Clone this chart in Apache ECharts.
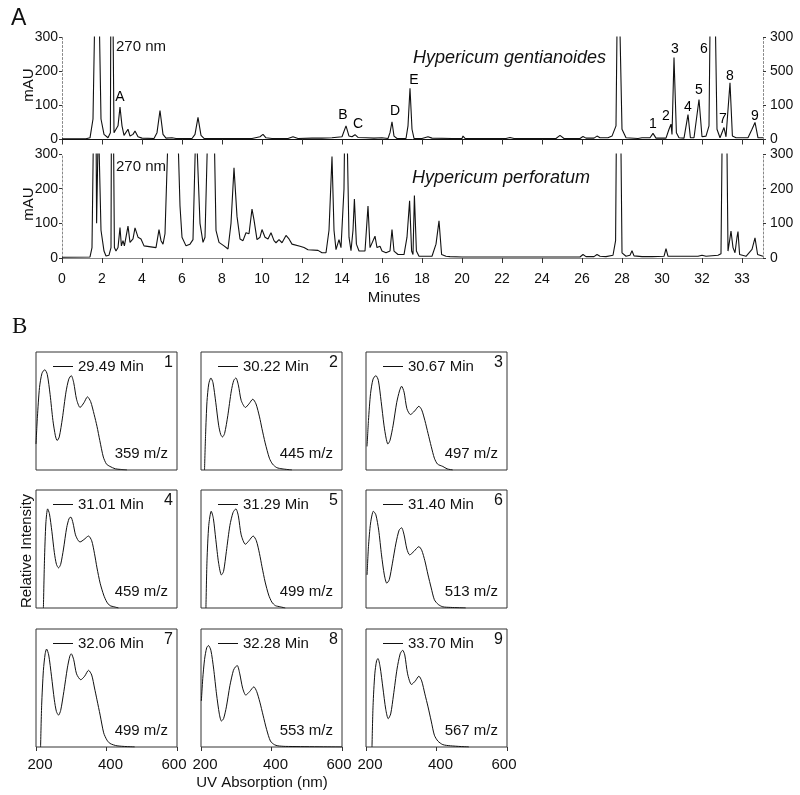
<!DOCTYPE html>
<html>
<head>
<meta charset="utf-8">
<script src="https://cdn.jsdelivr.net/npm/echarts@6/dist/echarts.min.js"></script>
<style>
html,body{margin:0;padding:0;background:#fff;}
#chart{width:800px;height:795px;}
</style>
</head>
<body>
<div id="chart"></div>
<script>
// ---------- DATA ----------
// Chromatogram tick labels (value -> label), last tick labelled "33" as in the original
var chromTickLabels = ['0','2','4','6','8','10','12','14','16','18','20','22','24','26','28','30','32','33'];
var leftYLabels = ['0','100','200','300'];
var rightTopYLabels = ['0','100','500','300'];
var rightBottomYLabels = ['0','100','200','300'];

// Hypericum gentianoides chromatogram (minutes, mAU)
var gentTime = [0,1.2,1.4,1.55,1.65,1.85,1.95,2.1,2.3,2.42,2.47,2.55,2.6,2.7,2.8,2.9,3.0,3.1,3.2,3.3,3.4,3.55,3.65,3.8,4.0,4.6,4.75,4.9,5.05,5.2,5.5,5.7,6.5,6.65,6.8,6.95,7.1,8,9.5,9.9,10.05,10.2,10.5,11.3,11.55,11.8,12.5,13,13.5,14.0,14.2,14.35,14.5,14.65,14.8,15.2,15.6,16.0,16.3,16.4,16.5,16.6,16.75,17.2,17.3,17.4,17.5,17.6,18.0,18.3,18.5,19.5,20.0,20.05,20.15,22.2,22.4,22.6,24.7,24.9,25.1,25.9,26.05,26.2,26.6,26.75,26.9,27.0,27.3,27.5,27.7,27.8,27.9,28.0,28.2,28.8,29.0,29.4,29.55,29.7,30.2,30.35,30.45,30.5,30.6,30.72,30.85,31.1,31.3,31.42,31.6,31.85,32.0,32.2,32.35,32.45,32.6,32.75,32.9,33.0,33.1,33.2,33.3,33.4,33.52,33.7,34.3,34.5,34.65,34.8,35.05];
var gentAU   = [2,2,5,60,400,400,60,15,5,20,900,900,20,15,40,95,40,12,10,30,10,15,25,8,4,3,20,85,15,4,5,3,3,15,65,12,3,3,3,8,15,5,3,3,8,3,4,4,5,8,40,10,8,14,6,5,4,5,3,20,52,10,3,3,40,150,30,3,3,8,4,3,3,10,3,3,6,3,3,12,3,3,9,4,4,10,5,8,5,10,40,600,600,30,5,3,5,5,18,4,4,30,45,15,240,20,5,4,73,5,5,117,8,10,40,600,600,30,5,10,35,8,10,166,10,5,5,30,50,5,5];

// Hypericum perforatum chromatogram (minutes, mAU)
var perfTime = [0,1.4,1.5,1.58,1.7,1.73,1.78,1.82,1.88,1.95,2.1,2.2,2.35,2.45,2.5,2.58,2.62,2.7,2.8,2.9,2.97,3.05,3.12,3.2,3.3,3.4,3.55,3.65,3.8,3.95,4.1,4.2,4.7,4.85,4.95,5.05,5.15,5.3,5.6,5.8,5.9,6.0,6.2,6.4,6.55,6.62,6.7,6.8,6.9,7.05,7.15,7.3,7.6,7.7,7.85,8.1,8.3,8.45,8.6,8.75,8.9,9.05,9.2,9.35,9.5,9.6,9.75,9.9,10.0,10.15,10.3,10.45,10.6,10.7,10.85,11.0,11.2,11.35,11.5,11.9,12.1,12.3,12.8,13.0,13.2,13.35,13.5,13.6,13.7,13.85,13.95,14.05,14.1,14.18,14.28,14.35,14.45,14.55,14.62,14.72,14.85,15.15,15.3,15.4,15.5,15.65,15.75,15.9,16.0,16.2,16.4,16.5,16.6,16.8,17.1,17.25,17.38,17.48,17.55,17.62,17.72,17.85,18.5,18.7,18.85,18.98,19.2,19.3,19.4,20.0,20.1,20.2,22.3,22.4,22.5,25.9,26.05,26.2,26.6,26.75,26.9,27.0,27.2,27.55,27.68,27.75,27.9,28.0,28.2,28.4,28.5,28.6,29.0,29.3,29.4,29.5,30.1,30.2,30.3,30.8,31.0,31.8,32.0,32.2,32.8,32.95,33.05,33.2,33.3,33.38,33.45,33.55,33.65,33.75,33.8,33.88,34.2,34.5,34.65,34.78,35.05];
var perfAU   = [2,3,30,400,400,100,95,400,400,80,20,6,8,30,900,900,30,20,30,88,35,50,35,40,92,45,55,87,60,55,35,30,30,82,50,40,70,350,600,350,150,60,35,40,53,50,400,400,100,45,60,400,400,80,45,35,26,100,260,120,55,50,73,70,141,110,53,60,82,60,55,73,50,44,53,44,65,55,40,34,30,24,22,15,15,80,293,80,24,53,30,25,200,600,600,60,21,80,170,40,20,20,150,30,25,63,30,34,20,15,20,82,20,10,10,60,165,20,10,180,20,5,5,40,107,10,5,10,4,3,6,3,3,6,3,3,10,4,4,10,5,9,4,8,50,600,600,15,5,8,21,6,4,4,7,4,5,27,5,5,5,5,8,5,8,12,600,600,20,50,78,30,15,60,76,10,5,25,58,10,5];

// Peak labels (name, minutes, mAU of the label)
var peakNames = ['A','B','C','D','E','1','2','3','4','5','6','7','8','9'];
var peakLabelTime = [2.9,14.05,14.8,16.65,17.6,29.55,30.2,30.65,31.3,31.85,32.1,33.05,33.4,34.65];
var peakLabelAU   = [124,71,45,83,173,45,69,264,95,144,264,60,185,68];

// UV spectra (panel B)
var spectraRT = ['29.49','30.22','30.67','31.01','31.29','31.40','32.06','32.28','33.70'];
var spectraMz = ['359','445','497','459','499','513','499','553','567'];
var wl1 = [200,204,210,217,225,232,240,248,255,260,266,275,285,293,300,307,315,325,336,346,355,365,373,381,391,400,410,425,440,458];
var in1 = [22,45,70,82,85,81,64,42,29,25,28,44,66,77,80,74,60,53,57,62,58,47,37,25,11,5,3,1,0.5,0];
var wl2 = [210,213,217,222,228,234,242,250,256,261,267,276,286,293,299,306,314,326,336,347,356,366,373,382,394,403,415,430,458];
var in2 = [0,30,58,73,78,74,57,38,30,28,31,46,67,76,78,72,59,53,56,60,56,45,35,23,10,5,2,1,0];
var wl3 = [203,207,213,220,228,235,243,251,257,262,268,277,287,295,301,308,316,326,338,350,358,367,376,385,394,403,418,430,446];
var in3 = [20,42,65,77,80,76,58,38,27,22,25,38,57,67,71,66,52,47,50,54,51,42,31,20,10,5,3,1,0];
var wl4 = [221,224,228,233,238,245,252,258,264,270,278,287,294,299,305,312,320,325,336,349,358,366,373,382,392,401,410,422,434];
var in4 = [0,40,72,84,80,65,47,37,34,37,50,68,76,77,72,62,57,56,58,61,57,46,34,21,11,5,2,1,0];
var wl5 = [214,217,222,229,235,242,250,258,264,272,282,291,299,306,314,326,336,348,357,366,373,382,392,401,411,425,439];
var in5 = [0,40,70,82,76,58,38,28,31,48,70,81,84,78,62,54,57,61,57,46,35,22,11,5,2,1,0];
var wl6 = [203,207,213,221,228,236,244,252,259,266,275,285,294,301,308,316,324,336,350,358,367,376,385,394,405,418,440,483];
var in6 = [28,52,72,82,79,66,45,28,21,24,38,55,66,68,62,50,45,48,52,49,40,28,17,7,3,1,0.5,0];
var wl7 = [213,216,221,226,230,236,244,252,258,264,270,279,289,296,300,307,315,327,338,349,358,366,373,382,392,401,410,430,480];
var in7 = [0,35,65,79,83,78,60,40,30,27,31,47,67,77,79,74,62,57,60,65,61,50,40,27,12,6,3,1,0];
var wl8 = [201,205,210,216,221,228,236,244,252,258,264,272,282,292,298,303,310,318,327,338,350,358,367,376,386,397,408,418,440,600];
var in8 = [39,58,74,84,86,82,66,45,28,22,24,34,52,65,68,69,62,50,44,47,51,47,38,27,15,5,2,1,0.5,0];
var wl9 = [217,220,225,230,234,240,248,256,263,270,278,288,297,304,310,318,329,340,350,358,367,376,385,394,404,418,440,492];
var in9 = [0,35,62,73,75,68,50,32,24,28,44,66,79,82,78,62,53,56,60,56,45,34,22,10,5,2,1,0];
var spectraWl = [wl1,wl2,wl3,wl4,wl5,wl6,wl7,wl8,wl9];
var spectraInt = [in1,in2,in3,in4,in5,in6,in7,in8,in9];
var uvTicks = ['200','400','600'];

// ---------- BUILD ----------
function zip(a,b){var r=[];for(var i=0;i<a.length;i++)r.push([a[i],b[i]]);return r;}
var FONT = 'Liberation Sans, Arial, sans-serif';
var INK = '#111';

var chromLeft = 62, chromWidth = 701;
var boxCols = [36,201,366], boxRows = [352,490,629], boxW = 141, boxH = 118;

var grids = [
  {left:chromLeft, top:37, width:chromWidth, height:102.5, show:false},
  {left:chromLeft, top:154, width:chromWidth, height:104, show:false}
];
for (var r=0;r<3;r++) for (var c=0;c<3;c++)
  grids.push({left:boxCols[c], top:boxRows[r], width:boxW, height:boxH, show:true, borderColor:'#333', borderWidth:1, backgroundColor:'transparent'});

function chromX(grid, showLabels){
  return {type:'value', gridIndex:grid, min:0, max:35.05, interval:2, position:'bottom',
    axisLine:{show:true, onZero:false, lineStyle:{color:'#777', type:[3,3], width:1}},
    axisTick:{show:true, length:5, lineStyle:{color:'#333'}},
    splitLine:{show:false},
    axisLabel:{show:showLabels, margin:14, fontSize:14, fontFamily:FONT, color:INK, showMaxLabel:false,
      formatter:function(v){ var i=v/2; return (Math.abs(i-Math.round(i))<1e-6 && chromTickLabels[i]!==undefined)?chromTickLabels[i]:''; }}};
}
function chromTop(grid, color){
  return {type:'value', gridIndex:grid, min:0, max:35.05, position:'top',
    axisLine:{show:true, lineStyle:{color:color, width:1}}, axisTick:{show:false}, axisLabel:{show:false}, splitLine:{show:false}};
}
function chromY(grid, pos, labels){
  return {type:'value', gridIndex:grid, min:0, max:300, interval:100, position:pos,
    axisLine:{show:true, onZero:false, lineStyle:{color:'#888', type:[2,2], width:1}},
    axisTick:{show:true, length:3, lineStyle:{color:'#333'}},
    splitLine:{show:false},
    axisLabel:{show:true, margin:pos==='left'?4:7, fontSize:14, fontFamily:FONT, color:INK,
      formatter:function(v){ return labels[Math.round(v/100)]; }}};
}

var xAxes = [chromX(0,false), chromTop(0,'#111'), chromX(1,true), chromTop(1,'#888')];
var yAxes = [chromY(0,'left',leftYLabels), chromY(0,'right',rightTopYLabels), chromY(1,'left',leftYLabels), chromY(1,'right',rightBottomYLabels)];

var series = [
  {type:'line', name:'gent', xAxisIndex:0, yAxisIndex:0, data:zip(gentTime,gentAU), showSymbol:false, clip:true,
   lineStyle:{color:'#111', width:1.1}, silent:true},
  {type:'line', name:'perf', xAxisIndex:2, yAxisIndex:2, data:zip(perfTime,perfAU), showSymbol:false, clip:true,
   lineStyle:{color:'#111', width:1.1}, silent:true},
  {type:'scatter', name:'peaks', xAxisIndex:0, yAxisIndex:0, symbolSize:0, silent:true,
   itemStyle:{opacity:1, color:'#000'},
   data:peakNames.map(function(n,i){return {name:n, value:[peakLabelTime[i], peakLabelAU[i]]};}),
   label:{show:true, position:'inside', formatter:'{b}', fontSize:14, fontFamily:FONT, color:'#000', opacity:1}}
];

var legends = [];
var graphics = [];
for (var k=0;k<9;k++){
  var rr = Math.floor(k/3), cc = k%3;
  var gi = 2+k;
  var last = rr===2;
  xAxes.push({type:'value', gridIndex:gi, min:200, max:600, interval:200,
    axisLine:{show:false}, splitLine:{show:false},
    axisTick:{show:last, length:4, lineStyle:{color:'#333'}},
    axisLabel:{show:last, margin:10, fontSize:15, fontFamily:FONT, color:INK,
      formatter:function(v){ var t = uvTicks[Math.round((v-200)/200)]; return v>=600 ? '{e|'+t+'}' : '{n|'+t+'}'; },
      rich:{n:{fontSize:15, fontFamily:FONT, color:INK, padding:[0,0,0,8]},
            e:{fontSize:15, fontFamily:FONT, color:INK, padding:[0,6,0,0]}}}});
  yAxes.push({type:'value', gridIndex:gi, min:0, max:100, show:false});
  var nm = spectraRT[k] + ' Min';
  series.push({type:'line', name:nm, xAxisIndex:4+k, yAxisIndex:4+k, data:zip(spectraWl[k], spectraInt[k]),
    showSymbol:false, smooth:0.25, clip:true, lineStyle:{color:'#111', width:1}, itemStyle:{color:'#111'}, silent:true});
  legends.push({data:[nm], left:boxCols[cc]+17, top:boxRows[rr]+7, icon:'rect', itemWidth:20, itemHeight:1,
    padding:0, selectedMode:false, textStyle:{fontSize:15, fontFamily:FONT, color:INK}});
  graphics.push({type:'text', left:boxCols[cc]+boxW-13, top:boxRows[rr]+3,
    style:{text:String(k+1), font:'16px '+FONT, fill:INK}});
  graphics.push({type:'text', right: 800-(boxCols[cc]+boxW-9), top:boxRows[rr]+boxH-24,
    style:{text:spectraMz[k]+' m/z', font:'15px '+FONT, fill:INK}});
}

function rotText(x,y,t,size){
  return {type:'text', x:x, y:y, rotation:Math.PI/2,
    style:{text:t, font:size+'px '+FONT, fill:INK, align:'center', verticalAlign:'middle'}};
}
graphics.push({type:'text', left:11, top:7, style:{text:'A', font:'23px '+FONT, fill:INK}});
graphics.push({type:'text', x:116, y:47, style:{text:'270 nm', font:'15px '+FONT, fill:INK, verticalAlign:'middle'}});
graphics.push({type:'text', x:116, y:167, style:{text:'270 nm', font:'15px '+FONT, fill:INK, verticalAlign:'middle'}});
graphics.push({type:'text', x:413, y:58, style:{text:'Hypericum gentianoides', font:'italic 18px '+FONT, fill:INK, verticalAlign:'middle'}});
graphics.push({type:'text', x:412, y:178, style:{text:'Hypericum perforatum', font:'italic 18px '+FONT, fill:INK, verticalAlign:'middle'}});
graphics.push(rotText(29,85,'mAU',15));
graphics.push(rotText(29,204,'mAU',15));
graphics.push({type:'text', x:394, y:298, style:{text:'Minutes', font:'15px '+FONT, fill:INK, align:'center', verticalAlign:'middle'}});
graphics.push({type:'text', left:12, top:315, style:{text:'B', font:'23px Liberation Serif, Times New Roman, serif', fill:INK}});
graphics.push(rotText(27,551,'Relative Intensity',15));
graphics.push({type:'text', x:262, y:783, style:{text:'UV Absorption (nm)', font:'15px '+FONT, fill:INK, align:'center', verticalAlign:'middle'}});

var chart = echarts.init(document.getElementById('chart'), null, {renderer:'canvas'});
chart.setOption({
  animation:false,
  backgroundColor:'#fff',
  grid:grids, xAxis:xAxes, yAxis:yAxes, series:series, legend:legends, graphic:graphics
});
</script>
</body>
</html>
